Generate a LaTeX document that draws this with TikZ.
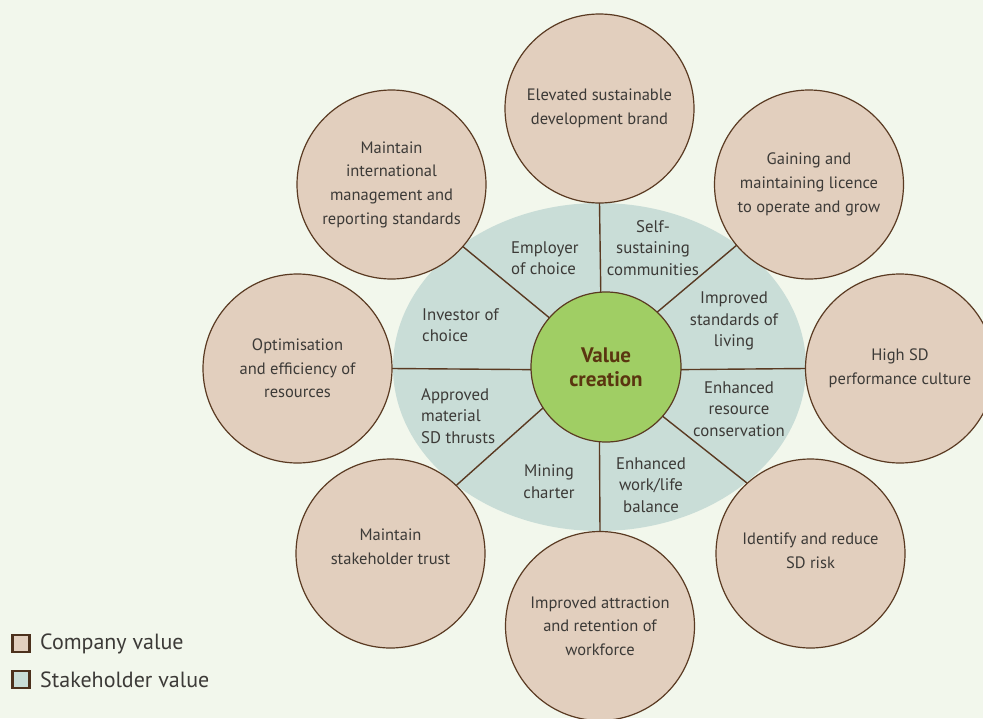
\documentclass[tikz,border=0pt]{standalone}
\usepackage{fontspec}
\setmainfont{PT Sans}
\usetikzlibrary{shapes.geometric}
\definecolor{bgc}{HTML}{F2F7EC}
\definecolor{compc}{HTML}{E2CFBE}
\definecolor{edgec}{HTML}{5A3A22}
\definecolor{stakec}{HTML}{C9DDD7}
\definecolor{greenc}{HTML}{A0CE64}
\definecolor{txtc}{HTML}{3C3A37}
\definecolor{vctxt}{HTML}{5A3510}
\newcommand{\dropby}[1]{\rule[-#1]{0pt}{#1}}
\tikzset{
  outer/.style={circle, draw=edgec, line width=1.2pt, fill=compc, minimum size=189pt, inner sep=0pt, outer sep=0pt,
    align=center, text=txtc, font=\fontsize{16.5}{23.7}\selectfont},
  inlab/.style={align=center, text=txtc, inner sep=0pt, font=\fontsize{16.8}{21.3}\selectfont},
  inlabl/.style={inlab, align=left, anchor=west},
  spoke/.style={draw=edgec, line width=1.4pt},
  legbox/.style={draw=edgec!85!black, line width=2.2pt, minimum size=17pt, inner sep=0pt},
  legtxt/.style={anchor=west, text=txtc, inner sep=0pt, font=\fontsize{22}{26}\selectfont}
}
\begin{document}
\begin{tikzpicture}[x=1pt,y=1pt]
\fill[bgc] (0,0) rectangle (983,-718);
\useasboundingbox (0,0) rectangle (983,-718);
% stakeholder ellipse
\node[ellipse, fill=stakec, minimum width=413pt, minimum height=328pt, inner sep=0pt] (ell) at (599.5,-367) {};
% outer company circles
\node[outer] (top) at (599.5,-108.5) {Elevated sustainable\\development brand\dropby{4pt}};
\node[outer] (tr) at (809,-184.5) {Gaining and\\maintaining licence\\to operate and grow};
\node[outer] (tl) at (391.5,-184.5) {Maintain\\international\\management and\\reporting standards};
\node[outer] (lf) at (297.5,-368.5) {Optimisation\\and efficiency of\\resources};
\node[outer] (rt) at (900,-368.5) {High SD\\performance culture};
\node[outer] (bl) at (390.5,-553.5) {Maintain\\stakeholder trust\dropby{14pt}};
\node[outer] (bt) at (600,-626) {Improved attraction\\and retention of\\workforce};
\node[outer] (br) at (810.5,-553.5) {Identify and reduce\\SD risk\dropby{6pt}};
% centre
\node[circle, draw=edgec, line width=1.2pt, fill=greenc, minimum size=150pt, inner sep=0pt, outer sep=0pt,
  align=center, text=vctxt, font=\fontsize{21}{24}\selectfont\bfseries] (vc) at (606,-367) {Value\\creation};
% spokes
\draw[spoke] (vc.94.6) -- (top.south);
\draw[spoke] (vc.265.4) -- (bt.north);
\draw[spoke] (vc.182.3) -- (lf.-0.9);
\draw[spoke] (vc.-2.3) -- (rt.180.9);
\draw[spoke] (vc.139.8) -- (tl.-41.2);
\draw[spoke] (vc.47.1) -- (tr.-140.3);
\draw[spoke] (vc.213.7) -- (bl.46.3);
\draw[spoke] (vc.-41.3) -- (br.132.9);
% stakeholder labels
\node[inlabl] (emp) at (511,-258.5) {Employer\\of choice};
\node[inlab] (self) at (653,-248) {Self-\\sustaining\\communities};
\node[inlab] (impr) at (734,-321) {Improved\\standards of\\living};
\node[inlabl] (inv) at (422,-325.5) {Investor of\\choice};
\node[inlabl] (appr) at (421,-416) {Approved\\material\\SD thrusts};
\node[inlab] (enh) at (739,-409) {Enhanced\\resource\\conservation};
\node[inlab] (mine) at (549,-481.5) {Mining\\charter};
\node[inlab] (work) at (651,-485) {Enhanced\\work/life\\balance};
% legend
\node[legbox, fill=compc] (lc) at (21,-643.5) {};
\node[legtxt] (lct) at (40,-644) {Company value};
\node[legbox, fill=stakec] (ls) at (21,-679.5) {};
\node[legtxt] (lst) at (40,-680) {Stakeholder value};
\end{tikzpicture}
\end{document}
